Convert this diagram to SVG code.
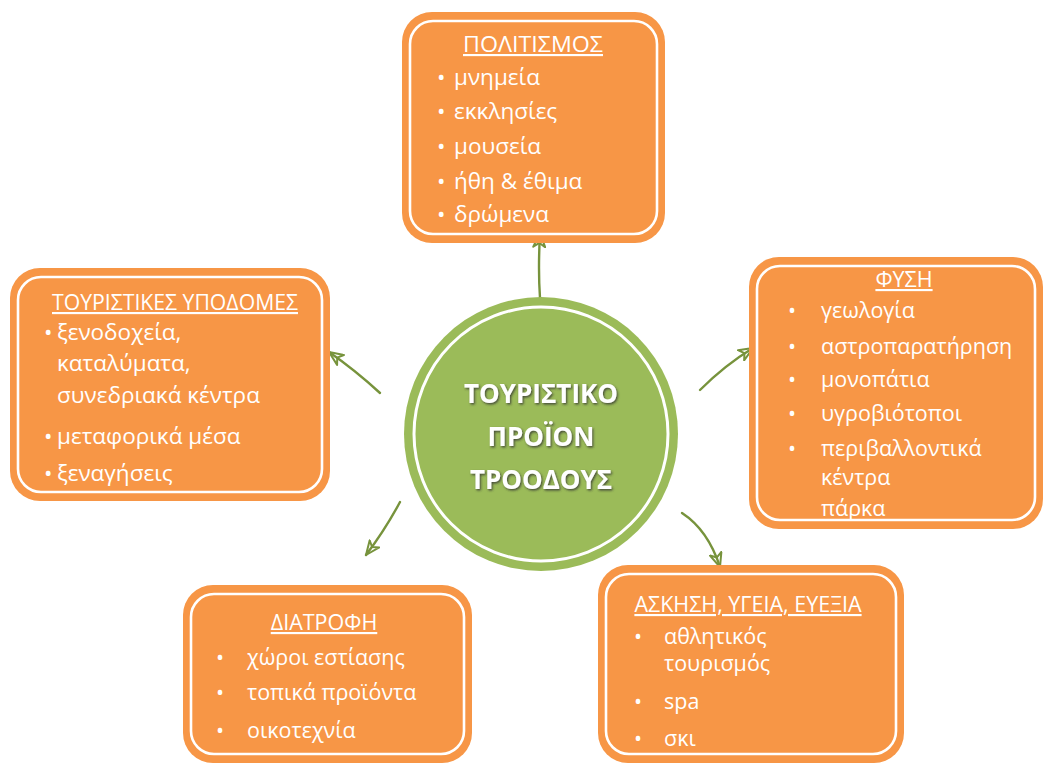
<svg xmlns="http://www.w3.org/2000/svg" width="1046" height="765" viewBox="0 0 1046 765">
<style>
.box{fill:#F79646;}
.ring{fill:none;stroke:#FFFFFF;stroke-width:2.6;}
.t{font-family:"Open Sans","Noto Sans","DejaVu Sans",sans-serif;fill:#FFFFFF;}
.title{font-size:21.5px;text-decoration:underline;}
.it{font-size:21.5px;}
.it2{font-size:22.5px;}
.center{font-family:"Open Sans","Noto Sans",sans-serif;font-weight:bold;font-size:26px;fill:#FFFFFF;filter:url(#sh);}
.conn{fill:none;stroke:#77933C;stroke-width:2.4;stroke-linecap:round;marker-end:url(#ah);}
</style>
<defs>
<filter id="sh" x="-20%" y="-20%" width="140%" height="160%">
<feDropShadow dx="1.2" dy="1.5" stdDeviation="0.8" flood-color="#333333" flood-opacity="0.8"/>
</filter>
<marker id="ah" viewBox="0 0 16 14" refX="15" refY="7" markerWidth="16" markerHeight="14" markerUnits="userSpaceOnUse" orient="auto">
<path d="M1,1 L15,7 L1,13 L5,7 Z" fill="none" stroke="#77933C" stroke-width="2" stroke-linejoin="round"/>
</marker>
</defs>
<rect width="1046" height="765" fill="#FFFFFF"/>

<g id="connectors">
<path class="conn" d="M540,298 Q538,270 540,233"/>
<path class="conn" d="M380,393 Q355,370 329,352"/>
<path class="conn" d="M700,390 Q725,365 753,348"/>
<path class="conn" d="M400,502 Q385,530 366,555"/>
<path class="conn" d="M682,513 Q708,530 720,567"/>
</g>

<g id="center">
<circle cx="541" cy="434" r="137" fill="#9BBB59"/>
<circle cx="541" cy="434" r="127" fill="none" stroke="#FFFFFF" stroke-width="3"/>
<text class="center" x="541" y="403" text-anchor="middle">ΤΟΥΡΙΣΤΙΚΟ</text>
<text class="center" x="541" y="446" text-anchor="middle">ΠΡΟΪΟΝ</text>
<text class="center" x="541" y="489" text-anchor="middle">ΤΡΟΟΔΟΥΣ</text>
</g>

<g id="politismos">
<rect class="box" x="402" y="12" width="263" height="231" rx="30"/>
<rect class="ring" x="410" y="21" width="247" height="213" rx="23"/>
<text class="t title" x="463" y="52" textLength="140" lengthAdjust="spacingAndGlyphs">ΠΟΛΙΤΙΣΜΟΣ</text>
<text class="t it2" x="437" y="85">•</text><text class="t it2" x="454" y="85">μνημεία</text>
<text class="t it2" x="437" y="119">•</text><text class="t it2" x="454" y="119">εκκλησίες</text>
<text class="t it2" x="437" y="154">•</text><text class="t it2" x="454" y="154">μουσεία</text>
<text class="t it2" x="437" y="189">•</text><text class="t it2" x="454" y="189">ήθη &amp; έθιμα</text>
<text class="t it2" x="437" y="222">•</text><text class="t it2" x="454" y="222">δρώμενα</text>
</g>

<g id="ypodomes">
<rect class="box" x="10" y="268" width="320" height="233" rx="30"/>
<rect class="ring" x="18" y="277" width="304" height="215" rx="23"/>
<text class="t title" x="52" y="310" textLength="246" lengthAdjust="spacingAndGlyphs">ΤΟΥΡΙΣΤΙΚΕΣ ΥΠΟΔΟΜΕΣ</text>
<text class="t it2" x="44" y="340">•</text><text class="t it2" x="57" y="340">ξενοδοχεία,</text>
<text class="t it2" x="57" y="371">καταλύματα,</text>
<text class="t it2" x="57" y="403">συνεδριακά κέντρα</text>
<text class="t it2" x="44" y="444">•</text><text class="t it2" x="57" y="444">μεταφορικά μέσα</text>
<text class="t it2" x="44" y="481">•</text><text class="t it2" x="57" y="481">ξεναγήσεις</text>
</g>

<g id="fysi">
<rect class="box" x="749" y="257" width="294" height="272" rx="30"/>
<rect class="ring" x="757" y="266" width="278" height="254" rx="23"/>
<text class="t title" x="904" y="287" text-anchor="middle">ΦΥΣΗ</text>
<text class="t it" x="788" y="318">•</text><text class="t it" x="821" y="318">γεωλογία</text>
<text class="t it" x="788" y="354">•</text><text class="t it" x="821" y="354">αστροπαρατήρηση</text>
<text class="t it" x="788" y="387">•</text><text class="t it" x="821" y="387">μονοπάτια</text>
<text class="t it" x="788" y="421">•</text><text class="t it" x="821" y="421">υγροβιότοποι</text>
<text class="t it" x="788" y="456">•</text><text class="t it" x="821" y="456">περιβαλλοντικά</text>
<text class="t it" x="821" y="485">κέντρα</text>
<text class="t it" x="821" y="516">πάρκα</text>
</g>

<g id="diatrofi">
<rect class="box" x="183" y="585" width="289" height="178" rx="30"/>
<rect class="ring" x="191" y="594" width="273" height="160" rx="23"/>
<text class="t title" x="324" y="630" text-anchor="middle">ΔΙΑΤΡΟΦΗ</text>
<text class="t it" x="216" y="665">•</text><text class="t it" x="247" y="665">χώροι εστίασης</text>
<text class="t it" x="216" y="700">•</text><text class="t it" x="247" y="700">τοπικά προϊόντα</text>
<text class="t it" x="216" y="738">•</text><text class="t it" x="247" y="738">οικοτεχνία</text>
</g>

<g id="askisi">
<rect class="box" x="598" y="565" width="306" height="198" rx="30"/>
<rect class="ring" x="606" y="574" width="290" height="180" rx="23"/>
<text class="t title" x="748" y="612" text-anchor="middle">ΑΣΚΗΣΗ, ΥΓΕΙΑ, ΕΥΕΞΙΑ</text>
<text class="t it" x="634" y="644">•</text><text class="t it" x="664" y="644">αθλητικός</text>
<text class="t it" x="664" y="671">τουρισμός</text>
<text class="t it" x="634" y="709">•</text><text class="t it" x="664" y="709">spa</text>
<text class="t it" x="634" y="746">•</text><text class="t it" x="664" y="746">σκι</text>
</g>
</svg>
